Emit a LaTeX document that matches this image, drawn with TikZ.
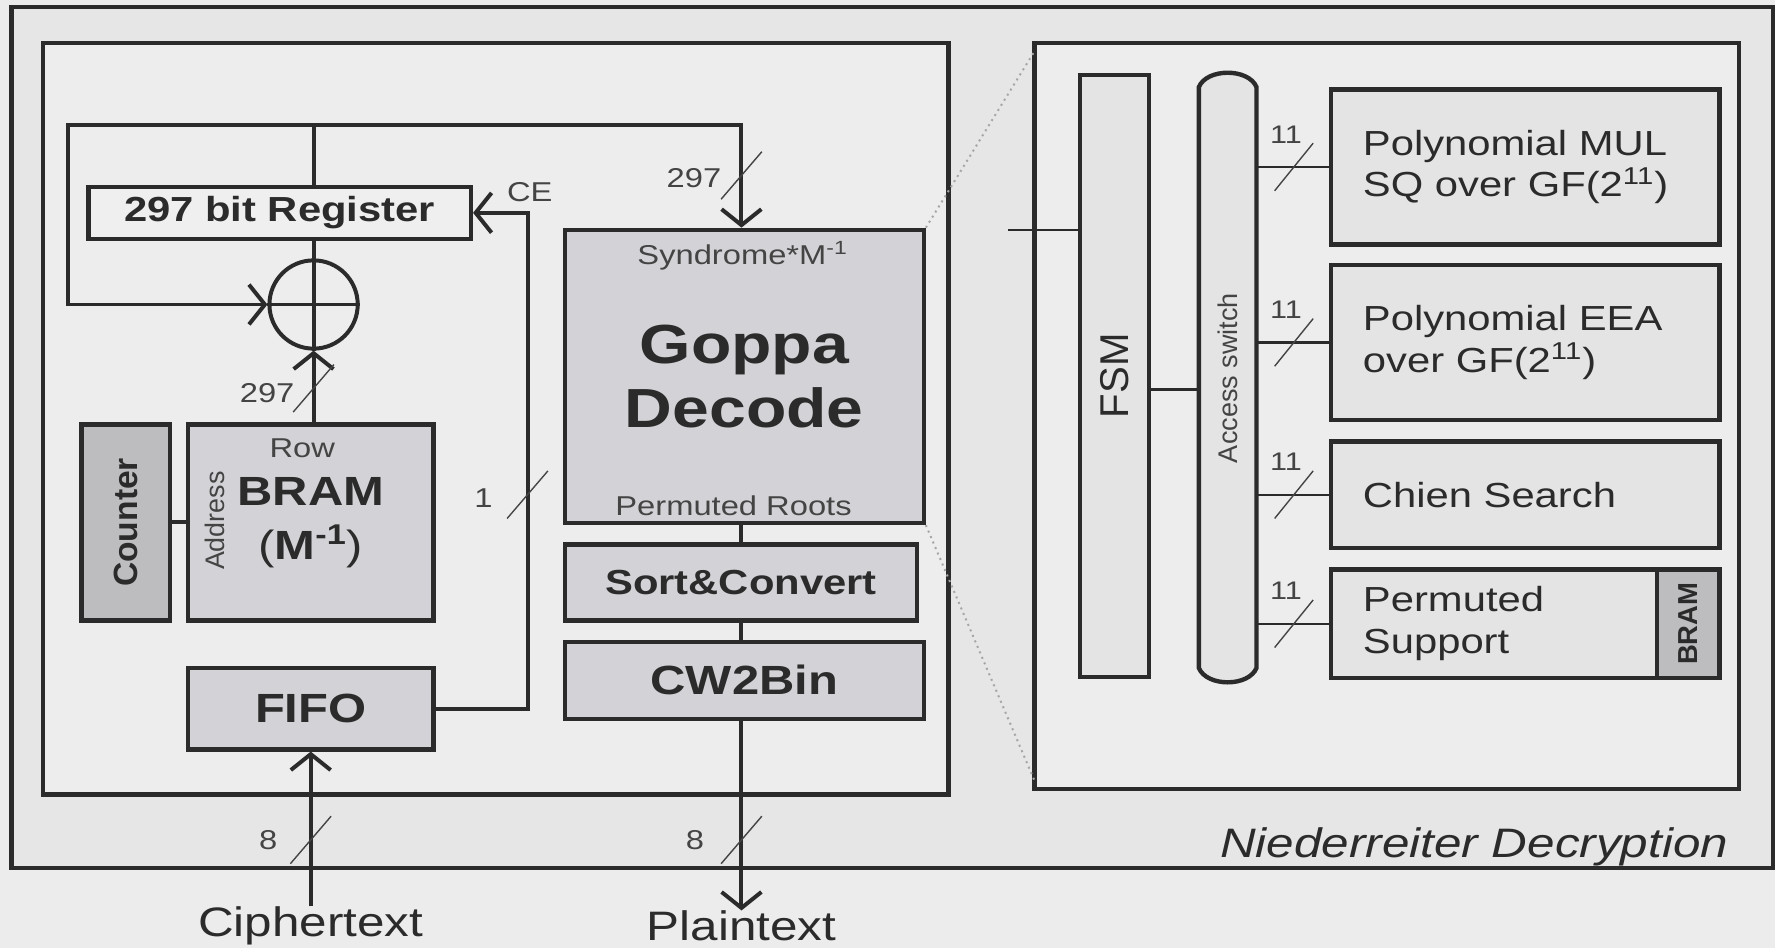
\documentclass[tikz,border=0pt]{standalone}
\usepackage{fontspec}
\setmainfont{Liberation Sans}[FakeStretch=1.2]
\newfontfamily\upfont{Liberation Sans}
\usetikzlibrary{arrows.meta, positioning, calc}

\definecolor{pagebg}{HTML}{ECECEC}
\definecolor{framebg}{HTML}{E6E6E6}
\definecolor{innerbg}{HTML}{EDEDED}
\definecolor{blkfill}{HTML}{D3D3D7}
\definecolor{cntfill}{HTML}{BDBDC0}
\definecolor{unitfill}{HTML}{E4E4E4}
\definecolor{regfill}{HTML}{EFEFEF}
\definecolor{ink}{HTML}{2B2B2B}
\definecolor{labelink}{HTML}{444444}

\newcommand\fgoppa{\fontsize{27.7pt}{32pt}\selectfont\bfseries}
\newcommand\fbig{\fontsize{20.5pt}{27pt}\selectfont\bfseries}
\newcommand\fmid{\fontsize{17.5pt}{21pt}\selectfont\bfseries}
\newcommand\fio{\fontsize{20.7pt}{25pt}\selectfont}
\newcommand\flbl{\fontsize{13.7pt}{16pt}\selectfont}
\newcommand\funit{\fontsize{17.5pt}{21pt}\selectfont}

\begin{document}
\begin{tikzpicture}[x=0.02cm, y=-0.02cm,
            >={Straight Barb[length=8pt,width=20pt]},
            frame/.style={draw=ink, line width=2.2pt},
            blk/.style={rectangle, draw=ink, fill=blkfill, line width=2.2pt, text=ink, inner sep=0pt, align=center},
            unit/.style={rectangle, draw=ink, fill=unitfill, line width=2.2pt, text=ink, inner xsep=0.56cm, inner ysep=0pt, text width=5.74cm, align=left, font=\funit},
            wire/.style={draw=ink, line width=2pt},
            link/.style={draw=ink, line width=1.1pt},
            busmark/.style={draw=labelink, line width=0.7pt},
            lbl/.style={text=labelink, font=\flbl, inner sep=0pt},
            io/.style={text=ink, font=\fio, inner sep=0pt},
            zoomline/.style={draw=gray!70, dotted, line width=1pt}
        ]
            % Background and frames
            \fill[pagebg] (0,0) rectangle (1568,837);
            \useasboundingbox (0,0) rectangle (1568,837);
            \draw[frame, fill=framebg] (10,6) rectangle (1566,767);
            \draw[frame, fill=innerbg] (38,38) rectangle (838,702);
            \draw[frame, fill=innerbg] (914,38) rectangle (1536,697);

            % Datapath blocks
            \node[blk, fill=regfill, minimum width=6.76cm, minimum height=0.92cm, font=\fmid] (reg) at (247,188) {297 bit Register};
            \node[circle, draw=ink, line width=2pt, minimum size=1.56cm, inner sep=0pt] (xor) at (277,269) {};
            \node[blk, fill=cntfill, minimum width=1.56cm, minimum height=3.46cm, font=\fontsize{16.9pt}{20pt}\selectfont] (cnt) at (111,461.5) {\rotatebox{90}{\upfont\bfseries Counter}};
            \node[blk, minimum width=4.34cm, minimum height=3.46cm, font=\fbig] (bram) at (274.5,461.5) {BRAM\\{\mdseries(}M\textsuperscript{-1}{\mdseries)}};
            \node[lbl] (row) at (267,396) {Row};
            \node[lbl, font=\fontsize{13.5pt}{16pt}\selectfont] (addr) at (190,460) {\rotatebox{90}{\upfont Address}};
            \node[blk, minimum width=4.34cm, minimum height=1.44cm, font=\fbig] (fifo) at (274.5,626) {FIFO};

            \node[blk, minimum width=6.34cm, minimum height=5.18cm, font=\fgoppa] (gop) at (657.5,332.5) {Goppa\\Decode};
            \node[lbl] (syn) at (656,226) {Syndrome*M\textsuperscript{-1}};
            \node[lbl] (roots) at (648,447) {Permuted Roots};
            \node[blk, minimum width=6.22cm, minimum height=1.34cm, font=\fmid] (sort) at (654.5,514.5) {Sort\&Convert};
            \node[blk, minimum width=6.34cm, minimum height=1.36cm, font=\fbig] (cw) at (657.5,601) {CW2Bin};

            \node[io] (ct) at (274.5,818) {Ciphertext};
            \node[io] (pt) at (655,818) {Plaintext};

            % Zoom lines to the decoder detail
            \draw[zoomline] (gop.north east) -- (914,45);
            \draw[zoomline] (gop.south east) -- (914,690);

            % Accumulator loop
            \coordinate (ltop) at (60,110);
            \coordinate (rtop) at (655,110);
            \draw[wire, ->] (xor |- ltop) -- (ltop) |- (xor.west);
            \draw[wire, ->] (xor |- ltop) -- (rtop) -- (rtop |- gop.north);
            \draw[wire] (xor |- ltop) -- (xor |- reg.north);
            \draw[wire] (xor |- reg.south) -- (xor.north);
            \draw[wire] (xor.north) -- (xor.south);
            \draw[wire] (xor.west) -- (xor.east);
            \draw[wire, ->] (xor |- bram.north) -- (xor.south);
            \draw[wire] (cnt.east) -- (bram.west);

            % Clock enable from FIFO
            \coordinate (ce) at (466,400);
            \draw[wire, ->] (fifo.east) -| (ce) |- (reg.east);
            \node[lbl] (celbl) at (468,170) {CE};

            % Decoder chain and I/O
            \draw[wire] (gop.south -| rtop) -- (sort.north -| rtop);
            \draw[wire] (sort.south -| rtop) -- (cw.north -| rtop);
            \draw[wire, ->] (ct.north) -- (fifo.south);
            \draw[wire, ->] (cw.south -| pt) -- (pt.north);

            % Bus widths
            \draw[busmark] (277,343) ++(-18,21) -- ++(36,-42);
            \node[lbl] (w297a) at (236,347) {297};
            \draw[busmark] (655,155) ++(-18,21) -- ++(36,-42);
            \node[lbl] (w297b) at (613,157) {297};
            \draw[busmark] (466,437) ++(-18,21) -- ++(36,-42);
            \node[lbl] (w1) at (427,440) {1};
            \draw[busmark] (274.5,742) ++(-18,21) -- ++(36,-42);
            \node[lbl] (w8a) at (237,742) {8};
            \draw[busmark] (655,742) ++(-18,21) -- ++(36,-42);
            \node[lbl] (w8b) at (614,742) {8};

            \node[io, font=\fio\itshape, anchor=east] (title) at (1527,748) {Niederreiter Decryption};

            % Decoder detail
            \node[rectangle, draw=ink, fill=unitfill, line width=2.2pt, minimum width=1.22cm, minimum height=10.64cm, inner sep=0pt, text=ink, font=\fontsize{20.2pt}{24pt}\selectfont] (fsm) at (984.5,332) {\rotatebox{90}{\upfont FSM}};
            \draw[frame, fill=unitfill] (1059,590) -- (1059,77) .. controls (1066,60) and (1103,60) .. (1110,77) -- (1110,590) .. controls (1103,607) and (1066,607) .. (1059,590) -- cycle;
            \node[inner sep=0pt, minimum width=1.02cm, minimum height=10.72cm, text=labelink, font=\fontsize{13.6pt}{16pt}\selectfont] (sw) at (1084.5,334) {\rotatebox{90}{\upfont Access switch}};
            \draw[link] ([yshift=2.58cm]fsm.west) -- ++(-62,0);
            \draw[link] ([yshift=-0.24cm]fsm.east) -- ([yshift=-0.24cm]fsm.east -| sw.west);

            \node[unit, minimum height=2.74cm] (mul) at (1347.5,147.5) {Polynomial MUL\\SQ over GF(2\textsuperscript{11})};
            \node[unit, minimum height=2.74cm] (eea) at (1347.5,302.5) {Polynomial EEA\\over GF(2\textsuperscript{11})};
            \node[unit, minimum height=1.88cm] (chien) at (1347.5,437) {Chien Search};
            \node[unit, minimum height=1.92cm] (perm) at (1347.5,551) {Permuted\\Support};
            \node[blk, fill=cntfill, minimum width=1.1cm, minimum height=1.92cm, font=\fontsize{13.8pt}{16pt}\selectfont] (pbram) at (1491.5,551) {\rotatebox{90}{\upfont\bfseries BRAM}};

            % Switch ports
            \draw[link] (sw.east |- mul.west) -- (mul.west);
            \draw[busmark] (1143,147.5) ++(-17,21) -- ++(34,-42);
            \node[lbl, font=\fontsize{12.8pt}{15pt}\selectfont] (p1) at (1136,119) {11};
            \draw[link] (sw.east |- eea.west) -- (eea.west);
            \draw[busmark] (1143,302.5) ++(-17,21) -- ++(34,-42);
            \node[lbl, font=\fontsize{12.8pt}{15pt}\selectfont] (p2) at (1136,274) {11};
            \draw[link] (sw.east |- chien.west) -- (chien.west);
            \draw[busmark] (1143,437) ++(-17,21) -- ++(34,-42);
            \node[lbl, font=\fontsize{12.8pt}{15pt}\selectfont] (p3) at (1136,408) {11};
            \draw[link] (sw.east |- perm.west) -- (perm.west);
            \draw[busmark] (1143,551) ++(-17,21) -- ++(34,-42);
            \node[lbl, font=\fontsize{12.8pt}{15pt}\selectfont] (p4) at (1136,522) {11};
        \end{tikzpicture}
\end{document}
